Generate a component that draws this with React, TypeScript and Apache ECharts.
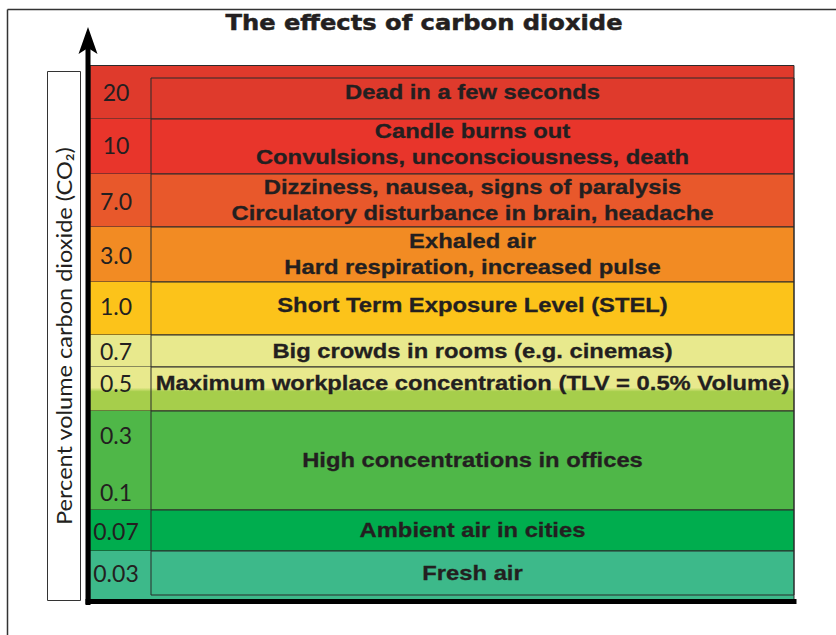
import React, { useEffect, useRef } from 'react';
import * as echarts from 'echarts';

// ---- data ----
const levelLabels: string[][] = [
  ['20'], ['10'], ['7.0'], ['3.0'], ['1.0'], ['0.7'], ['0.5'], ['0.3', '0.1'], ['0.07'], ['0.03'],
];
const effects: string[][] = [
  ['Dead in a few seconds'],
  ['Candle burns out', 'Convulsions, unconsciousness, death'],
  ['Dizziness, nausea, signs of paralysis', 'Circulatory disturbance in brain, headache'],
  ['Exhaled air', 'Hard respiration, increased pulse'],
  ['Short Term Exposure Level (STEL)'],
  ['Big crowds in rooms (e.g. cinemas)'],
  ['Maximum workplace concentration (TLV = 0.5% Volume)'],
  ['High concentrations in offices'],
  ['Ambient air in cities'],
  ['Fresh air'],
];
// band extents on the (unitless) vertical scale
const bandTop = [522, 481, 426, 373, 318, 265, 233, 189, 90, 49];
const bandBottom = [481, 426, 373, 318, 265, 233, 189, 90, 49, 5];
const scaleMax = 535;

const titleText = 'The effects of carbon dioxide';
const axisTitle = 'Percent volume carbon dioxide (CO\u2082)';

// ---- styles ----
const BAND_COLORS: any[] = [
  '#df3a2c', '#e8352b', '#e8582b', '#f28b23', '#fcc31a', '#e8e98d',
  'GRADIENT', '#4fb748', '#00ad4e', '#3db98a',
];
const INK = '#231f20';
const LINE = '#2b2b2b';
const LABEL_COL = 61;
const LABEL_NUDGE: Record<number, number> = { 6: -6, 1: -2, 4: -3 };
const DOUBLE_LABEL_OFFSETS = [-26, 31];

function renderItem(params: any, api: any) {
  const i = api.value(0);
  const b = api.value(1);
  const t = api.value(2);
  const cs = params.coordSys;
  const n = bandTop.length;
  const fillTop = i === 0 ? scaleMax : t;
  const fillBottom = i === n - 1 ? 0 : b;
  const yFT = api.coord([0, fillTop])[1];
  const yFB = api.coord([0, fillBottom])[1];
  const yT = api.coord([0, t])[1];
  const yB = api.coord([0, b])[1];
  const split = cs.x + LABEL_COL;
  const right = cs.x + cs.width;

  let fill: any = BAND_COLORS[i];
  if (fill === 'GRADIENT') {
    fill = new echarts.graphic.LinearGradient(0, 0, 0, 1, [
      { offset: 0, color: '#e8e98d' },
      { offset: 0.47, color: '#e8e98d' },
      { offset: 0.56, color: '#a6ce4b' },
      { offset: 1, color: '#a6ce4b' },
    ]);
  }

  const cy = (yFT + yB) / 2 + (LABEL_NUDGE[i] || 0);
  const children: any[] = [
    {
      type: 'rect',
      shape: { x: cs.x, y: yFT, width: cs.width, height: yFB - yFT },
      style: { fill },
    },
    {
      type: 'rect',
      shape: { x: split, y: yT, width: right - split, height: yB - yT },
      style: { fill: 'none', stroke: LINE, lineWidth: 1 },
    },
  ];
  if (i < n - 1) {
    children.push({
      type: 'line',
      shape: { x1: cs.x, y1: yB, x2: split, y2: yB },
      style: { stroke: LINE, lineWidth: 1 },
    });
  }
  const labs = levelLabels[i];
  labs.forEach((lab, k) => {
    const ly = labs.length === 1 ? cy : cy + DOUBLE_LABEL_OFFSETS[k];
    children.push({
      type: 'text',
      x: cs.x + 26,
      y: ly,
      style: {
        text: lab,
        fill: INK,
        fontSize: 23,
        fontFamily: 'Lato, "Open Sans", sans-serif',
        align: 'center',
        verticalAlign: 'middle',
      },
    });
  });
  children.push({
    type: 'text',
    x: (split + right) / 2,
    y: cy,
    scaleX: 1.16,
    style: {
      text: effects[i].join('\n'),
      fill: INK,
      stroke: INK,
      lineWidth: 0.3,
      fontSize: 20.5,
      fontWeight: 'bold',
      fontFamily: '"Liberation Sans", Arial, sans-serif',
      align: 'center',
      verticalAlign: 'middle',
      lineHeight: 26,
    },
  });
  return { type: 'group', children };
}

export default function App() {
  const ref = useRef<HTMLDivElement>(null);
  useEffect(() => {
    if (!ref.current) return;
    const chart = echarts.init(ref.current, undefined, { renderer: 'svg' });
    chart.setOption({
      animation: false,
      backgroundColor: '#ffffff',
      grid: { left: 90, right: 42, top: 65, bottom: 35, show: false },
      xAxis: { type: 'value', min: 0, max: 1, show: false },
      yAxis: { type: 'value', min: 0, max: scaleMax, show: false },
      series: [
        {
          type: 'custom',
          renderItem,
          clip: false,
          data: bandTop.map((t, i) => [i, bandBottom[i], t]),
        },
      ],
      graphic: [
        // page frame
        { type: 'line', z: 10, shape: { x1: 7.5, y1: 9.5, x2: 836, y2: 9.5 }, style: { stroke: '#333', lineWidth: 1.5 } },
        { type: 'line', z: 10, shape: { x1: 7.5, y1: 9.5, x2: 7.5, y2: 635 }, style: { stroke: '#333', lineWidth: 1.5 } },
        // title
        {
          type: 'text', z: 10, x: 424, y: 22, scaleX: 1.1,
          style: {
            text: titleText, fill: INK, stroke: INK, lineWidth: 0.5, fontSize: 22, fontWeight: 'bold',
            fontFamily: '"DejaVu Sans", sans-serif', align: 'center', verticalAlign: 'middle',
          },
        },
        // outer border of the band area
        { type: 'rect', z: 10, shape: { x: 90, y: 65.5, width: 704, height: 534 }, style: { fill: 'none', stroke: LINE, lineWidth: 1 } },
        // axis title box
        { type: 'rect', z: 10, shape: { x: 47.5, y: 71.5, width: 33, height: 529 }, style: { fill: '#fff', stroke: '#333', lineWidth: 1 } },
        {
          type: 'text', z: 11, x: 64, y: 336, rotation: Math.PI / 2, scaleX: 1.07,
          style: {
            text: axisTitle, fill: INK, fontSize: 22,
            fontFamily: 'Lato, "Open Sans", sans-serif', align: 'center', verticalAlign: 'middle',
          },
        },
        // y axis shaft and arrow
        { type: 'rect', z: 12, shape: { x: 85.5, y: 45, width: 5, height: 560 }, style: { fill: '#000' } },
        { type: 'polygon', z: 12, shape: { points: [[88, 27], [97.5, 54], [88, 48], [78.5, 54]] }, style: { fill: '#000' } },
        // x baseline
        { type: 'rect', z: 12, shape: { x: 85.5, y: 599, width: 711, height: 5 }, style: { fill: '#000' } },
      ],
    });
    return () => chart.dispose();
  }, []);
  return (
    <div
      ref={ref}
      style={{ position: 'absolute', left: 0, top: 0, width: 836, height: 635 }}
    />
  );
}
